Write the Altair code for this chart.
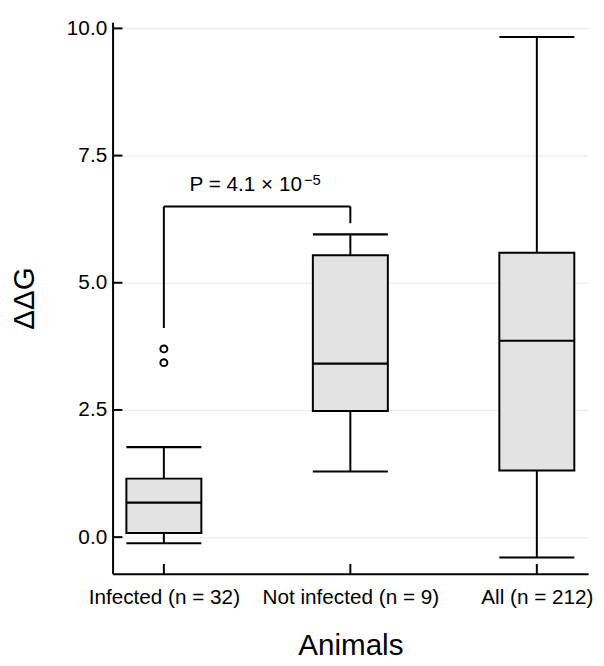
import altair as alt
import pandas as pd

# ---- data ----
groups = ["Infected (n = 32)", "Not infected (n = 9)", "All (n = 212)"]
whisker_low = [-0.12, 1.29, -0.40]
q1 = [0.08, 2.48, 1.31]
median = [0.68, 3.41, 3.86]
q3 = [1.15, 5.54, 5.59]
whisker_high = [1.77, 5.95, 9.83]

outlier_groups = ["Infected (n = 32)", "Infected (n = 32)"]
outlier_values = [3.43, 3.70]

y_ticks = [0.0, 2.5, 5.0, 7.5, 10.0]

bracket_left_group = "Infected (n = 32)"
bracket_right_group = "Not infected (n = 9)"
bracket_top = 6.50
bracket_left_bottom = 4.11
bracket_right_bottom = 6.17
p_text = "P = 4.1 × 10"
p_sup = "−5"

FONT = "Liberation Sans"

box_df = pd.DataFrame({
    "group": groups, "lo": whisker_low, "q1": q1,
    "med": median, "q3": q3, "hi": whisker_high,
})
out_df = pd.DataFrame({"group": outlier_groups, "v": outlier_values})
ytick_df = pd.DataFrame({"v": y_ticks})
xtick_df = pd.DataFrame({"group": groups})
bracket_h = pd.DataFrame({"group": [bracket_left_group], "group2": [bracket_right_group], "v": [bracket_top]})
bracket_v = pd.DataFrame({
    "group": [bracket_left_group, bracket_right_group],
    "v": [bracket_left_bottom, bracket_right_bottom],
    "v2": [bracket_top, bracket_top],
})
text_df = pd.DataFrame({"group": [bracket_left_group], "v": [bracket_top], "t": [p_text], "s": [p_sup]})

xscale = alt.Scale(type="point", domain=groups, padding=0.275)
yscale = alt.Scale(domain=[-0.72, 10.12], nice=False, zero=False)

x_axis = alt.Axis(
    title="Animals", grid=False, tickSize=0, labelPadding=13, titlePadding=24,
    labelAngle=0,
)
y_axis = alt.Axis(
    title="ΔΔG", values=y_ticks, format=".1f", grid=True, tickSize=0,
    labelPadding=6, titlePadding=27,
)


def X(field):
    return alt.X(field, scale=xscale, axis=x_axis)


def Y(field):
    return alt.Y(field, scale=yscale, axis=y_axis)


base = alt.Chart(box_df)
LW = 2

whisk_lo = base.mark_rule(color="black", strokeWidth=LW).encode(
    x=X("group:N"), y=Y("lo:Q"), y2="q1:Q",
)
whisk_hi = base.mark_rule(color="black", strokeWidth=LW).encode(
    x=X("group:N"), y=Y("q3:Q"), y2="hi:Q",
)
caps_lo = base.mark_tick(color="black", size=76, thickness=2.2, opacity=1).encode(
    x=X("group:N"), y=Y("lo:Q"),
)
caps_hi = base.mark_tick(color="black", size=76, thickness=2.2, opacity=1).encode(
    x=X("group:N"), y=Y("hi:Q"),
)
boxes = base.mark_bar(size=76, fill="#e3e3e3", stroke="black", strokeWidth=LW, opacity=1).encode(
    x=X("group:N"), y=Y("q1:Q"), y2="q3:Q",
)
medians = base.mark_tick(color="black", size=76, thickness=2.2, opacity=1).encode(
    x=X("group:N"), y=Y("med:Q"),
)
outliers = alt.Chart(out_df).mark_point(
    shape="circle", filled=False, color="black", size=50, strokeWidth=LW, opacity=1
).encode(
    x=X("group:N"), y=Y("v:Q"),
)

yticks = alt.Chart(ytick_df).mark_rule(color="black", strokeWidth=LW).encode(
    y=Y("v:Q"), x=alt.value(0), x2=alt.value(10),
)
xticks = alt.Chart(xtick_df).mark_rule(color="black", strokeWidth=LW).encode(
    x=X("group:N"), y=alt.value(559), y2=alt.value(549),
)

br_h = alt.Chart(bracket_h).mark_rule(color="black", strokeWidth=LW).encode(
    x=X("group:N"), x2="group2:N", y=Y("v:Q"),
)
br_v = alt.Chart(bracket_v).mark_rule(color="black", strokeWidth=LW).encode(
    x=X("group:N"), y=Y("v:Q"), y2="v2:Q",
)
ptext = alt.Chart(text_df).mark_text(
    align="left", baseline="alphabetic", dx=26, dy=-16, fontSize=21, font=FONT, color="black"
).encode(
    x=X("group:N"), y=Y("v:Q"), text="t:N",
)
psup = alt.Chart(text_df).mark_text(
    align="left", baseline="alphabetic", dx=142, dy=-22, fontSize=15, font=FONT, color="black"
).encode(
    x=X("group:N"), y=Y("v:Q"), text="s:N",
)

chart = alt.layer(
    whisk_lo, whisk_hi, caps_lo, caps_hi, boxes, medians, outliers,
    yticks, xticks, br_h, br_v, ptext, psup,
).properties(
    width=482, height=559,
    autosize=alt.AutoSizeParams(type="none"),
    padding={"left": 106, "top": 10, "right": 8, "bottom": 88},
    background="white",
).configure_view(
    stroke=None
).configure_axis(
    domainColor="black", domainWidth=LW,
    labelFont=FONT, labelFontSize=21, labelColor="black",
    titleFont=FONT, titleFontSize=30, titleFontWeight="normal", titleColor="black",
    gridColor="#ebebeb", gridWidth=1.2,
)

chart.save("out.html", embed_options={"renderer": "svg", "actions": False})
